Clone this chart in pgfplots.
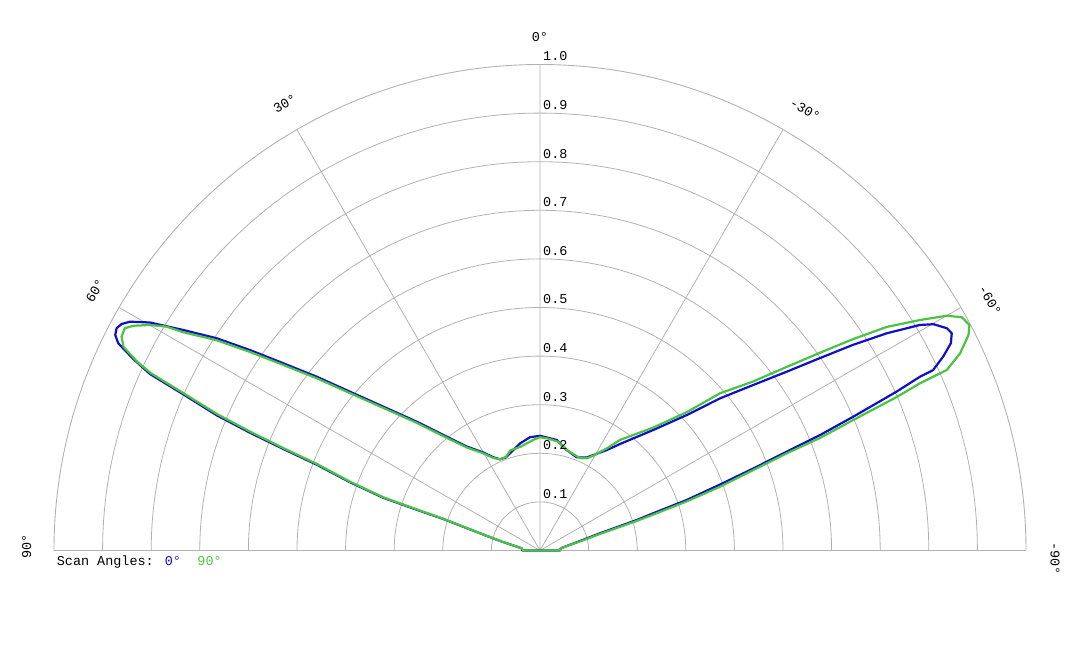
\documentclass[border=0pt]{standalone}
\usepackage{fontspec}
\setmainfont{Liberation Mono}
\usepackage{pgfplots}
\pgfplotsset{compat=1.18}
\usepgfplotslibrary{polar}
\usepackage{pgfplotstable}

\definecolor{scanblue}{RGB}{15,15,200}
\definecolor{scangreen}{RGB}{75,195,65}
\definecolor{gridgray}{RGB}{178,178,178}

% scan angle (deg, 0 = broadside, + to the left), normalised magnitude
\pgfplotstableread{
a      r
90     0.036
83.1   0.038
76.6   0.085
74.0   0.128
71.96  0.209
71.7   0.267
71.4   0.340
70.25  0.415
68.98  0.492
68.42  0.568
67.9   0.644
67.3   0.721
66.36  0.801
65.65  0.881
64.78  0.925
63.83  0.967
63.1   0.980
62.3   0.984
61.57  0.979
60.83  0.966
59.7   0.930
58.28  0.863
56.72  0.796
55.34  0.725
53.9   0.654
52.1   0.582
50.1   0.509
47.46  0.438
43.75  0.367
38.73  0.296
35.2   0.262
30.05  0.233
26.7   0.215
23.7   0.205
20.1   0.204
15.8   0.212
10.6   0.224
5.05   0.234
0      0.236
-8.6   0.230
-14.9  0.214
-21.5  0.206
-26.6  0.214
-29.2  0.225
-33.6  0.248
-36.9  0.274
-43.2  0.340
-47.3  0.411
-49.8  0.485
-52.2  0.556
-54.07 0.627
-55.5  0.699
-56.7  0.771
-57.94 0.842
-59.3  0.909
-60.1  0.934
-61.35 0.954
-62.18 0.958
-63.23 0.947
-64.3  0.921
-65.35 0.890
-65.42 0.860
-65.99 0.803
-66.87 0.701
-67.6  0.623
-68.17 0.547
-68.97 0.470
-69.9  0.393
-71.0  0.319
-71.8  0.245
-72.5  0.209
-74.0  0.128
-76.6  0.085
-83.9  0.043
-90    0.041
90     0.036
}\scanzero

\pgfplotstableread{
a      r
90     0.035
83.1   0.038
76.5   0.085
73.9   0.128
71.85  0.209
71.55  0.267
71.25  0.340
70.1   0.415
68.8   0.492
68.25  0.568
67.7   0.644
67.1   0.721
66.2   0.801
65.5   0.880
64.9   0.915
63.94  0.954
62.93  0.967
61.83  0.969
61.07  0.956
59.96  0.927
59.06  0.896
58.55  0.861
56.97  0.794
55.6   0.723
54.15  0.652
52.35  0.580
50.35  0.507
47.7   0.436
44.0   0.365
39.0   0.294
35.4   0.260
30.2   0.231
26.7   0.213
23.7   0.205
20.0   0.205
16.4   0.215
10.9   0.217
3.5    0.228
0      0.233
-4.0   0.231
-9.5   0.227
-15.0  0.214
-23.5  0.207
-27.0  0.213
-29.5  0.225
-33.3  0.252
-35.9  0.281
-42.65 0.344
-46.7  0.415
-48.87 0.492
-51.6  0.560
-53.35 0.633
-54.76 0.705
-55.98 0.778
-57.19 0.849
-58.75 0.914
-60.0  0.966
-61.06 0.992
-62.3  0.998
-63.3  0.987
-64.85 0.955
-66.07 0.916
-66.25 0.854
-66.72 0.799
-67.38 0.698
-68.1  0.621
-68.5  0.546
-69.33 0.469
-70.5  0.393
-71.5  0.318
-72.4  0.245
-73.0  0.208
-74.6  0.128
-77.3  0.084
-83.9  0.043
-90    0.041
90     0.035
}\scanninety

\begin{document}
\begin{tikzpicture}[font=\fontsize{13.5}{15}\selectfont]
\useasboundingbox (-540bp,-97.5bp) rectangle (540bp,550.5bp);
\begin{polaraxis}[
    at={(0,0)}, anchor=origin,
    scale only axis, width=972bp, height=972bp,
    xmin=0, xmax=180, ymin=0, ymax=1,
    xtick={0,30,60,90,120,150,180},
    ytick={0.1,0.2,0.3,0.4,0.5,0.6,0.7,0.8,0.9},
    xticklabels={}, yticklabels={},
    major tick length=0pt,
    grid=major,
    major grid style={draw=gridgray, line width=0.8bp},
    axis line style={draw=gridgray, line width=0.9bp},
    clip=false,
]
    % plotted angle = scan angle + 90 so that 0 deg points up
    \addplot[scanblue, line width=2.2bp, line join=round]
        table[x expr=\thisrow{a}+90, y=r] {\scanzero};
    \addplot[scangreen, line width=2.2bp, line join=round]
        table[x expr=\thisrow{a}+90, y=r] {\scanninety};
    % radial labels along the 0 deg spoke
    \pgfplotsinvokeforeach{0.1,0.2,0.3,0.4,0.5,0.6,0.7,0.8,0.9,1.0}{
        \node[anchor=base west, inner sep=0pt, xshift=3bp, yshift=3.5bp]
            at (axis cs:90,#1) {#1};
    }
\end{polaraxis}
% angle labels
\node[rotate=0]   at (0bp,513.8bp)      {0°};
\node[rotate=30]  at (-255bp,447.2bp)   {30°};
\node[rotate=60]  at (-445bp,259.8bp)   {60°};
\node[rotate=90]  at (-513.3bp,3.8bp)   {90°};
\node[rotate=-30] at (265bp,440.5bp)    {-30°};
\node[rotate=-60] at (450bp,250.5bp)    {-60°};
\node[rotate=-90] at (515bp,-7.8bp)     {-90°};
% legend
\node[anchor=base west, inner sep=0pt] at (-483.3bp,-14.5bp) {Scan Angles:};
\node[anchor=base west, inner sep=0pt, text=scanblue] at (-375.3bp,-14.5bp) {0°};
\node[anchor=base west, inner sep=0pt, text=scangreen] at (-342.7bp,-14.5bp) {90°};
\end{tikzpicture}
\end{document}
